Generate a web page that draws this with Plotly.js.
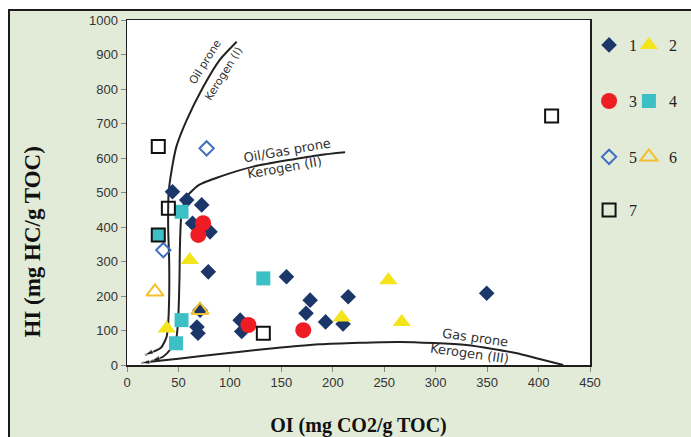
<!DOCTYPE html>
<html>
<head>
<meta charset="utf-8">
<script src="https://cdn.plot.ly/plotly-3.0.1.min.js"></script>
<style>
  html, body { margin: 0; padding: 0; background: #ffffff; overflow: hidden; }
  #frame { position: absolute; left: 8px; top: 9px; width: 800px; height: 500px;
           border: 2px solid #1c1c1c; background: #e2ebd8; }
  #chart { position: absolute; left: 0; top: 0; width: 691px; height: 437px; }
</style>
</head>
<body>
<div id="frame"></div>
<div id="chart"></div>
<script>
// ---- data (OI, HI) ----
const seriesNames = ['1', '2', '3', '4', '5', '6', '7'];

const s1x = [44.2, 58, 72.6, 63.7, 80.7, 79, 155, 71, 68, 69, 110, 111.5, 178, 174, 193, 215, 210, 349.6];
const s1y = [502, 478, 464, 411, 386, 270, 256, 159, 110, 92, 130, 97, 188, 150, 125, 198, 119, 208];

const s2x = [61, 38.6, 208.6, 254, 267];
const s2y = [304, 106, 138, 246, 125];

const s3x = [74, 69.3, 118, 171.3];
const s3y = [411, 377, 116, 101];

const s4x = [53, 30.4, 132.5, 53, 47.6];
const s4y = [444, 377, 251, 130, 63];

const s5x = [77.4, 35.3];
const s5y = [628, 333];

const s6x = [27.2, 71];
const s6y = [212, 159];

const s7x = [30.4, 40.2, 30.4, 132.5, 412.7];
const s7y = [633, 454, 377, 92, 722];

// kerogen boundary curves (drawn towards the origin, arrow at the end)
const k1x = [106.6, 90, 74, 58, 48, 43.4, 40.5, 40, 41, 41, 40, 38.5, 33, 17.5];
const k1y = [937, 884, 806, 710, 633, 565, 500, 400, 300, 200, 120, 82, 50, 29];

const k2x = [212, 187.6, 122.7, 90.4, 70, 58, 53, 51.5, 51, 50, 48, 42, 35, 24];
const k2y = [617, 609, 575, 546, 522, 488, 440, 350, 250, 150, 80, 45, 24, 12];

const k3x = [424, 400, 379, 330, 265, 187, 130, 90, 50, 25, 14];
const k3y = [0, 18, 34, 58, 67, 60, 45, 32, 18, 10, 6];

const tickVals = [0, 100, 200, 300, 400, 500, 600, 700, 800, 900, 1000];
const xTickVals = [0, 50, 100, 150, 200, 250, 300, 350, 400, 450];

// ---- traces ----
function curve(x, y) {
  const sizes = x.map((v, i) => i === x.length - 1 ? 9 : 0);
  return {
    x: x, y: y, type: 'scatter', mode: 'lines+markers', showlegend: false,
    hoverinfo: 'skip', line: { color: '#222222', width: 2, shape: 'spline', smoothing: 0.6 },
    marker: { symbol: 'arrow', size: sizes, angleref: 'previous', color: '#222222' }
  };
}

const traces = [
  curve(k1x, k1y), curve(k2x, k2y), curve(k3x, k3y),
  { x: s1x, y: s1y, name: seriesNames[0], type: 'scatter', mode: 'markers', legend: 'legend',
    marker: { symbol: 'diamond', size: 12, color: '#1b3668' } },
  { x: s2x, y: s2y, name: seriesNames[1], type: 'scatter', mode: 'markers', legend: 'legend2',
    marker: { symbol: 'triangle-up', size: 16, color: '#f3e41c' } },
  { x: s3x, y: s3y, name: seriesNames[2], type: 'scatter', mode: 'markers', legend: 'legend3',
    marker: { symbol: 'circle', size: 16, color: '#ee1d23' } },
  { x: s4x, y: s4y, name: seriesNames[3], type: 'scatter', mode: 'markers', legend: 'legend4',
    marker: { symbol: 'square', size: 14, color: '#3cbfc5' } },
  { x: s5x, y: s5y, name: seriesNames[4], type: 'scatter', mode: 'markers', legend: 'legend5',
    marker: { symbol: 'diamond-open', size: 11, color: '#3f6fc1', line: { width: 2 } } },
  { x: s6x, y: s6y, name: seriesNames[5], type: 'scatter', mode: 'markers', legend: 'legend6',
    marker: { symbol: 'triangle-up-open', size: 15, color: '#f2c12e', line: { width: 2 } } },
  { x: s7x, y: s7y, name: seriesNames[6], type: 'scatter', mode: 'markers', legend: 'legend7',
    marker: { symbol: 'square-open', size: 13, color: '#111111', line: { width: 2 } } }
];

const legFont = { family: '"Liberation Serif", "Times New Roman", serif', size: 16, color: '#222222' };
function leg(x, y) {
  return { x: x, y: y, xanchor: 'left', yanchor: 'middle', orientation: 'v',
           bgcolor: 'rgba(0,0,0,0)', font: legFont, itemwidth: 30,
           itemclick: false, itemdoubleclick: false };
}
const colA = 0.998, colB = 1.084;
const row1 = 0.9275, row2 = 0.765, row3 = 0.603, row4 = 0.449;

const labelFont = { family: '"DejaVu Sans", Arial, sans-serif', size: 13, color: '#333333' };
const smallLabelFont = { family: '"DejaVu Sans", Arial, sans-serif', size: 11, color: '#333333' };
function lab(text, x, y, angle, font) {
  return { text: text, x: x, y: y, xref: 'x', yref: 'y', showarrow: false,
           textangle: angle, font: font };
}

const layout = {
  width: 691, height: 437,
  margin: { l: 127, r: 101, t: 20, b: 72, autoexpand: false },
  paper_bgcolor: 'rgba(0,0,0,0)',
  plot_bgcolor: '#ffffff',
  showlegend: true,
  legend: leg(colA, row1),
  legend2: leg(colB, row1),
  legend3: leg(colA, row2),
  legend4: leg(colB, row2),
  legend5: leg(colA, row3),
  legend6: leg(colB, row3),
  legend7: leg(colA, row4),
  xaxis: {
    range: [0, 450], tickvals: xTickVals, ticks: 'outside', ticklen: 5, tickcolor: '#888888',
    showgrid: false, zeroline: false, showline: true, mirror: true, linecolor: '#1e1e1e', linewidth: 1.5,
    tickfont: { family: '"Liberation Sans Narrow", "Liberation Sans", Arial, sans-serif', size: 13, color: '#333333' },
    title: { text: 'OI (mg CO2/g TOC)', standoff: 30,
             font: { family: '"Liberation Serif", "Times New Roman", serif', size: 20, color: '#111111', weight: 'bold' } }
  },
  yaxis: {
    range: [0, 1000], tickvals: tickVals, ticks: 'outside', ticklen: 5, tickcolor: '#888888',
    showgrid: false, zeroline: false, showline: true, mirror: true, linecolor: '#1e1e1e', linewidth: 1.5,
    tickfont: { family: '"Liberation Sans Narrow", "Liberation Sans", Arial, sans-serif', size: 13, color: '#333333' }
  },
  annotations: [
    { text: '<b>HI (mg HC/g TOC)</b>', xref: 'paper', yref: 'paper', x: -0.205, y: 0.355,
      xanchor: 'center', yanchor: 'middle', showarrow: false, textangle: -90,
      font: { family: '"Liberation Serif", "Times New Roman", serif', size: 23, color: '#111111' } },
    lab('Oil prone', 75.5, 878, -58, smallLabelFont),
    lab('Kerogen (I)', 94, 846, -58, smallLabelFont),
    lab('Oil/Gas prone', 155.5, 622, -10, labelFont),
    lab('Kerogen (II)', 153.5, 572, -10, labelFont),
    lab('Gas prone', 338, 80, 8, labelFont),
    lab('Kerogen (III)', 333, 33, 8, labelFont)
  ]
};

Plotly.newPlot('chart', traces, layout, { displayModeBar: false, staticPlot: true });
</script>
</body>
</html>
